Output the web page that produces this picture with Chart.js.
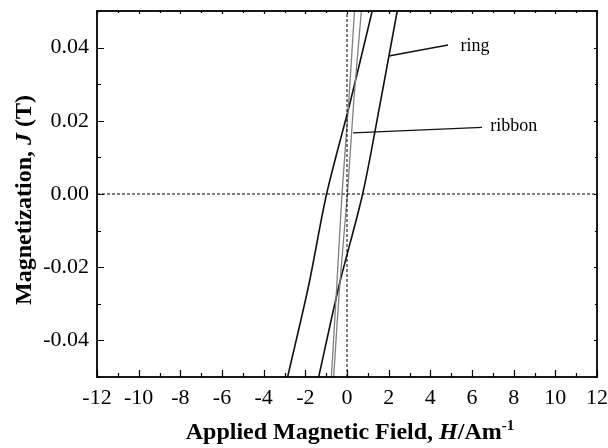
<!DOCTYPE html>
<html>
<head>
<meta charset="utf-8">
<script src="https://cdn.jsdelivr.net/npm/chart.js@4/dist/chart.umd.min.js"></script>
<style>
html,body{margin:0;padding:0;background:#fff;}
#wrap{width:608px;height:448px;}
</style>
</head>
<body>
<div id="wrap"><canvas id="c" width="608" height="448"></canvas></div>
<script>
// Data (H in A/m, J in T)
const ringUpH   = [-2.85, -1.84, -0.98, 0.15, 1.21];
const ringUpJ   = [-0.05, -0.025, 0.0, 0.025, 0.05];
const ringDownH = [-1.36, -0.38, 0.75, 1.60, 2.41];
const ringDownJ = [-0.05, -0.025, 0.0, 0.025, 0.05];
const ribbonAH  = [-0.75, -0.49, -0.24, 0.08, 0.36];
const ribbonAJ  = [-0.05, -0.025, 0.0, 0.025, 0.05];
const ribbonBH  = [-0.64, -0.35, 0.02, 0.32, 0.69];
const ribbonBJ  = [-0.05, -0.025, 0.0, 0.025, 0.05];

const xTicks = [-12,-10,-8,-6,-4,-2,0,2,4,6,8,10,12];
const xMinor = [-11,-9,-7,-5,-3,-1,1,3,5,7,9,11];
const yTicks = [-0.04,-0.02,0.00,0.02,0.04];
const yMinor = [-0.05,-0.03,-0.01,0.01,0.03,0.05];

// annotation pointers (data coordinates)
const ringPointerH = [2.0, 4.85];
const ringPointerJ = [0.0377, 0.0407];
const ribbonPointerH = [0.29, 6.48];
const ribbonPointerJ = [0.0167, 0.0182];
const labelTexts = ["ring", "ribbon"];
const labelH = [5.45, 6.88];
const labelJ = [0.0405, 0.0185];

const zeroH = [0, 0];  const zeroHJ = [-0.05, 0.05];
const zeroJH = [-12, 12]; const zeroJ = [0, 0];

const pts = (xs, ys) => xs.map((x, i) => ({x: x, y: ys[i]}));

const SERIF = '"Liberation Serif","Times New Roman",serif';

const ds = (data, color, width, dash, tension) => ({
  data: data, showLine: true, borderColor: color, borderWidth: width,
  borderDash: dash || [], pointRadius: 0, fill: false, tension: tension || 0
});

const decor = {
  id: 'decor',
  afterDraw(chart) {
    const ctx = chart.ctx;
    const xs = chart.scales.x, ys = chart.scales.y;
    const {left, right, top, bottom} = chart.chartArea;
    ctx.save();
    ctx.strokeStyle = '#000';
    ctx.lineWidth = 1.2;
    // ticks
    ctx.beginPath();
    xTicks.forEach(v => { const p = Math.round(xs.getPixelForValue(v)) + 0.5;
      ctx.moveTo(p, bottom); ctx.lineTo(p, bottom - 7);
      ctx.moveTo(p, top); ctx.lineTo(p, top + 3); });
    xMinor.forEach(v => { const p = Math.round(xs.getPixelForValue(v)) + 0.5;
      ctx.moveTo(p, bottom); ctx.lineTo(p, bottom - 4);
      ctx.moveTo(p, top); ctx.lineTo(p, top + 2); });
    yTicks.forEach(v => { const p = Math.round(ys.getPixelForValue(v)) + 0.5;
      ctx.moveTo(left, p); ctx.lineTo(left + 7, p);
      ctx.moveTo(right, p); ctx.lineTo(right - 3, p); });
    yMinor.forEach(v => { const p = Math.round(ys.getPixelForValue(v)) + 0.5;
      ctx.moveTo(left, p); ctx.lineTo(left + 4, p);
      ctx.moveTo(right, p); ctx.lineTo(right - 2, p); });
    ctx.stroke();
    // frame
    ctx.lineWidth = 1.8;
    ctx.strokeRect(left, top, right - left, bottom - top);

    // labels
    ctx.fillStyle = '#000';
    ctx.font = '18px ' + SERIF;
    ctx.textAlign = 'left';
    ctx.textBaseline = 'middle';
    labelTexts.forEach((t, i) => {
      ctx.fillText(t, xs.getPixelForValue(labelH[i]), ys.getPixelForValue(labelJ[i]));
    });

    // x title with mixed styles
    const bold = 'bold 24px ' + SERIF, boldIt = 'italic bold 24px ' + SERIF, sup = 'bold 15px ' + SERIF;
    const xParts = [["Applied Magnetic Field, ", bold, 0], ["H", boldIt, 0], ["/Am", bold, 0], ["-1", sup, -9]];
    let w = 0;
    xParts.forEach(p => { ctx.font = p[1]; w += ctx.measureText(p[0]).width; });
    let x = (left + right) / 2 + 3 - w / 2;
    const yBase = 439;
    ctx.textBaseline = 'alphabetic';
    xParts.forEach(p => { ctx.font = p[1]; ctx.fillText(p[0], x, yBase + p[2]); x += ctx.measureText(p[0]).width; });

    // y title
    const yParts = [["Magnetization, ", bold], ["J", boldIt], [" (T)", bold]];
    let wy = 0;
    yParts.forEach(p => { ctx.font = p[1]; wy += ctx.measureText(p[0]).width; });
    ctx.translate(31, 200);
    ctx.rotate(-Math.PI / 2);
    let xx = -wy / 2;
    yParts.forEach(p => { ctx.font = p[1]; ctx.fillText(p[0], xx, 0); xx += ctx.measureText(p[0]).width; });
    ctx.restore();
  }
};

new Chart(document.getElementById('c'), {
  type: 'scatter',
  data: {
    datasets: [
      ds(pts(zeroH, zeroHJ), '#000', 1, [3, 2]),
      ds(pts(zeroJH, zeroJ), '#000', 1, [3, 2]),
      ds(pts(ribbonAH, ribbonAJ), '#808080', 1.3, null, 0.3),
      ds(pts(ribbonBH, ribbonBJ), '#808080', 1.3, null, 0.3),
      ds(pts(ringUpH, ringUpJ), '#111', 1.6, null, 0.3),
      ds(pts(ringDownH, ringDownJ), '#111', 1.6, null, 0.3),
      ds(pts(ringPointerH, ringPointerJ), '#111', 1.4),
      ds(pts(ribbonPointerH, ribbonPointerJ), '#111', 1.4)
    ]
  },
  options: {
    responsive: false,
    animation: false,
    layout: { padding: { top: 11, right: 11, left: 0, bottom: 0 } },
    plugins: { legend: { display: false }, tooltip: { enabled: false } },
    scales: {
      x: {
        type: 'linear', min: -12, max: 12,
        grid: { display: false, drawTicks: false },
        border: { display: false },
        afterBuildTicks: s => { s.ticks = xTicks.map(v => ({value: v})); },
        afterFit: s => { s.height = 71; s.paddingLeft = 0; s.paddingRight = 0; },
        ticks: { color: '#000', padding: 8, maxRotation: 0, autoSkip: false,
                 font: { family: SERIF, size: 22 }, callback: v => String(v) }
      },
      y: {
        type: 'linear', min: -0.05, max: 0.05,
        grid: { display: false, drawTicks: false },
        border: { display: false },
        afterBuildTicks: s => { s.ticks = yTicks.map(v => ({value: v})); },
        afterFit: s => { s.width = 97; s.paddingTop = 0; s.paddingBottom = 0; },
        ticks: { color: '#000', padding: 8, autoSkip: false,
                 font: { family: SERIF, size: 22 }, callback: v => Number(v).toFixed(2) }
      }
    }
  },
  plugins: [decor]
});
</script>
</body>
</html>
